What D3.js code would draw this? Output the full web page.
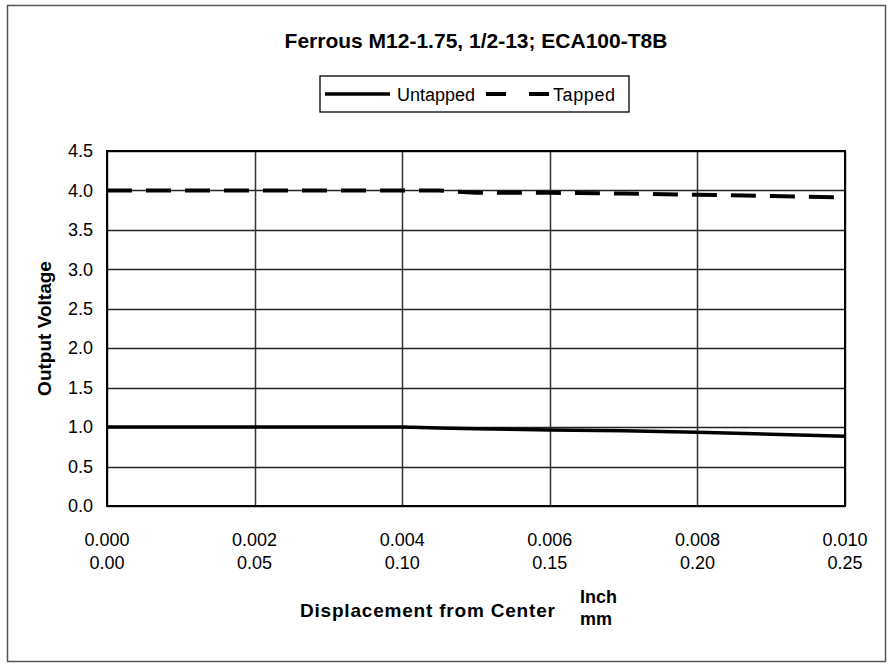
<!DOCTYPE html>
<html>
<head>
<meta charset="utf-8">
<script src="https://cdn.jsdelivr.net/npm/d3@7"></script>
<style>
  body { margin: 0; background: #fff; }
  text { font-family: Arial, "Liberation Sans", sans-serif; fill: #000; }
</style>
</head>
<body>
<svg id="chart" width="891" height="665"></svg>
<script>
const title = "Ferrous M12-1.75, 1/2-13; ECA100-T8B";
const seriesNames = ["Untapped", "Tapped"];

// displacement in inches
const displacement = [0, 0.001, 0.002, 0.003, 0.004, 0.0045, 0.005, 0.006, 0.007, 0.008, 0.009, 0.010];
const untapped = [1.0, 1.0, 1.0, 1.0, 1.0, 0.99, 0.98, 0.963, 0.955, 0.936, 0.91, 0.885];
const tapped = [4.0, 4.0, 4.0, 4.0, 4.0, 4.0, 3.97, 3.97, 3.96, 3.945, 3.93, 3.91];

const xTicksInch = [0, 0.002, 0.004, 0.006, 0.008, 0.010];
const xTicksMm = ["0.00", "0.05", "0.10", "0.15", "0.20", "0.25"];
const yTicks = [0, 0.5, 1.0, 1.5, 2.0, 2.5, 3.0, 3.5, 4.0, 4.5];

const svg = d3.select("#chart"),
  margin = { top: 151, right: 46, bottom: 159, left: 107 },
  width = 891 - margin.left - margin.right,
  height = 665 - margin.top - margin.bottom;

// outer chart frame
svg.append("rect")
  .attr("x", 7.5).attr("y", 5.5)
  .attr("width", 878).attr("height", 656)
  .attr("fill", "none").attr("stroke", "#555").attr("stroke-width", 1.5);

const g = svg.append("g")
  .attr("transform", "translate(" + margin.left + "," + margin.top + ")");

const x = d3.scaleLinear().domain([0, 0.010]).range([0, width]);
const y = d3.scaleLinear().domain([0, 4.5]).range([height, 0]);

// gridlines
g.append("g")
  .selectAll("line")
  .data(yTicks)
  .join("line")
  .attr("x1", 0).attr("x2", width)
  .attr("y1", (d) => Math.round(y(d)) + 0.5)
  .attr("y2", (d) => Math.round(y(d)) + 0.5)
  .attr("stroke", "#222").attr("stroke-width", 1.3);

g.append("g")
  .selectAll("line")
  .data(xTicksInch)
  .join("line")
  .attr("x1", (d) => Math.round(x(d)) + 0.5)
  .attr("x2", (d) => Math.round(x(d)) + 0.5)
  .attr("y1", 0).attr("y2", height)
  .attr("stroke", "#333").attr("stroke-width", 1.5);

// y axis labels
g.append("g")
  .call(d3.axisLeft(y).tickValues(yTicks).tickSize(0).tickPadding(14).tickFormat(d3.format(".1f")))
  .call((a) => a.select(".domain").remove())
  .selectAll("text")
  .style("font-size", "18px");

// x axis labels, two rows (inch, mm)
const xl = g.append("g").attr("transform", `translate(0,${height})`);
xl.selectAll("text.inch")
  .data(xTicksInch)
  .join("text")
  .attr("class", "inch")
  .attr("x", (d) => x(d))
  .attr("y", 40)
  .attr("text-anchor", "middle")
  .style("font-size", "18px")
  .text((d) => d3.format(".3f")(d));
xl.selectAll("text.mm")
  .data(xTicksInch)
  .join("text")
  .attr("class", "mm")
  .attr("x", (d) => x(d))
  .attr("y", 63)
  .attr("text-anchor", "middle")
  .style("font-size", "18px")
  .text((d, i) => xTicksMm[i]);

// plot border
g.append("rect")
  .attr("width", width).attr("height", height)
  .attr("fill", "none").attr("stroke", "#000").attr("stroke-width", 2);

const line = (vals) =>
  d3.line()
    .x((d, i) => x(displacement[i]))
    .y((d) => y(d))(vals);

g.append("path")
  .attr("d", line(untapped))
  .attr("fill", "none")
  .attr("stroke", "#000")
  .attr("stroke-width", 3.5);

g.append("path")
  .attr("d", line(tapped))
  .attr("fill", "none")
  .attr("stroke", "#000")
  .attr("stroke-width", 4)
  .attr("stroke-dasharray", "25,14");

// title
svg.append("text")
  .attr("x", margin.left + width / 2)
  .attr("y", 48)
  .attr("text-anchor", "middle")
  .style("font-size", "21px")
  .style("font-weight", "bold")
  .text(title);

// legend
const lg = svg.append("g").attr("transform", "translate(320,76)");
lg.append("rect")
  .attr("width", 309).attr("height", 36)
  .attr("fill", "#fff").attr("stroke", "#000").attr("stroke-width", 1.3);
lg.append("line")
  .attr("x1", 5).attr("x2", 70).attr("y1", 18).attr("y2", 18)
  .attr("stroke", "#000").attr("stroke-width", 3.5);
lg.append("text")
  .attr("x", 77).attr("y", 25)
  .style("font-size", "18px")
  .text(seriesNames[0]);
lg.append("line")
  .attr("x1", 166).attr("x2", 229).attr("y1", 18).attr("y2", 18)
  .attr("stroke", "#000").attr("stroke-width", 4)
  .attr("stroke-dasharray", "20,23");
lg.append("text")
  .attr("x", 233).attr("y", 25)
  .style("font-size", "18px")
  .style("letter-spacing", "0.6px")
  .text(seriesNames[1]);

// axis titles
svg.append("text")
  .attr("transform", `translate(51,${margin.top + height / 2}) rotate(-90)`)
  .attr("text-anchor", "middle")
  .style("font-size", "19px")
  .style("font-weight", "bold")
  .text("Output Voltage");

svg.append("text")
  .attr("x", 300)
  .attr("y", 617)
  .style("font-size", "19px")
  .style("font-weight", "bold")
  .style("letter-spacing", "0.8px")
  .text("Displacement from Center");

svg.append("text")
  .attr("x", 580)
  .attr("y", 603)
  .style("font-size", "18px")
  .style("font-weight", "bold")
  .text("Inch");
svg.append("text")
  .attr("x", 580)
  .attr("y", 625)
  .style("font-size", "18px")
  .style("font-weight", "bold")
  .text("mm");
</script>
</body>
</html>
